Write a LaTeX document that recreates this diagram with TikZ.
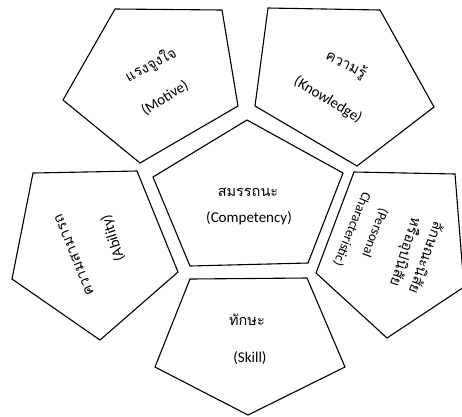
\documentclass[tikz,border=0pt]{standalone}
\usepackage{fontspec}
\setmainfont{Carlito}
\newfontfamily\thai[Script=Thai]{Loma}
\begin{document}
\begin{tikzpicture}[x=1pt,y=-1pt,
  pent/.style={draw=black, line width=1.1pt, line join=miter},
  lbl/.style={font=\fontsize{15}{18}\selectfont, inner sep=0pt},
  lbls/.style={font=\fontsize{13.5}{16}\selectfont, inner sep=0pt},
  th/.style={font=\thai\fontsize{14.5}{16}\selectfont, inner sep=0pt}]
\useasboundingbox (0,0) rectangle (462,416);
\fill[white] (0,0) rectangle (462,416);
\clip (0,0) rectangle (462,416);
% center
\draw[pent] (247,120) -- (343,173) -- (308,263) -- (190,266) -- (153,177) -- cycle;
% motive
\draw[pent] (115,9) -- (222,10) -- (238,106) -- (140,163) -- (63,100) -- cycle;
% knowledge
\draw[pent] (268,8) -- (380,10) -- (434,107) -- (357,166) -- (255,106) -- cycle;
% ability
\draw[pent] (33,173) -- (137,171) -- (178,272) -- (100,340) -- (12,279) -- cycle;
% characteristic
\draw[pent] (354,172) -- (455,174) -- (464,287) -- (387,338) -- (316,273) -- cycle;
% skill
\draw[pent] (190,279) -- (307,278) -- (345,367) -- (248,415) -- (155,367) -- cycle;

\node[th] (cen1) at (248,192) {สมรรถนะ};
\node[lbl] (cen2) at (249,218) {(Competency)};
\node[th, rotate=28] (mot1) at (151,65) {แรงจูงใจ};
\node[lbl, rotate=32] (mot2) at (165,98) {(Motive)};
\node[th, rotate=-28] (kno1) at (346,65) {ความรู้};
\node[lbl, rotate=-31] (kno2) at (328,100) {(Knowledge)};
\node[th, rotate=112] (abi1) at (74,255) {ความสามารถ};
\node[lbl, rotate=108] (abi2) at (113,238) {(Ability)};
\node[th, rotate=-110] (per1) at (427,258) {ลักษณะนิสัย};
\node[th, rotate=-108] (per2) at (405,252) {หรืออุปนิสัย};
\node[lbls, rotate=-111] (per3) at (375,233) {(Personal};
\node[lbls, rotate=-112] (per4) at (352,229) {Characteristic)};
\node[th] (ski1) at (247,320) {ทักษะ};
\node[lbl] (ski2) at (250,358) {(Skill)};
\end{tikzpicture}
\end{document}
